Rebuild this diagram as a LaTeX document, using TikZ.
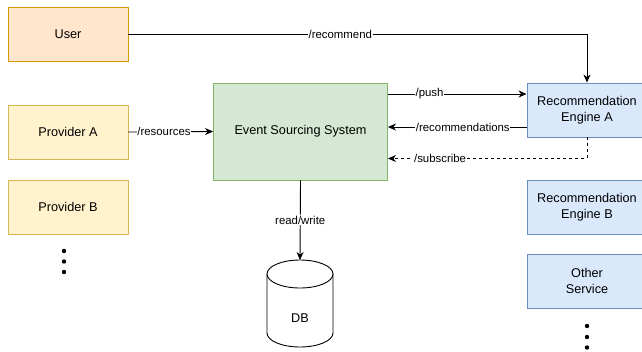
\documentclass[tikz,border=0pt]{standalone}
\usepackage{fontspec}
\setmainfont{Liberation Sans}
\usetikzlibrary{arrows.meta}

\definecolor{userfill}{HTML}{FFE6CC}
\definecolor{userline}{HTML}{D79B00}
\definecolor{provfill}{HTML}{FFF2CC}
\definecolor{provline}{HTML}{D6B656}
\definecolor{essfill}{HTML}{D5E8D4}
\definecolor{essline}{HTML}{82B366}
\definecolor{engfill}{HTML}{DAE8FC}
\definecolor{engline}{HTML}{6C8EBF}

\tikzset{
    box/.style={draw, line width=0.9pt, minimum width=120pt, minimum height=54pt,
        align=center, inner sep=1pt, font=\fontsize{12.7}{15.5}\selectfont},
    lbl/.style={fill=white, inner sep=0.8pt, font=\fontsize{11.4}{13}\selectfont},
    link/.style={line width=0.9pt, -{Stealth[length=8pt, width=7pt, inset=2.5pt]}},
}

\begin{document}
\begin{tikzpicture}[x=1pt, y=-1pt]
    \clip (0,0) rectangle (642,351);

    % Draw the boxes
    \node[box, fill=userfill, draw=userline] (user) at (68,34.5) {User};
    \node[box, fill=provfill, draw=provline] (provA) at (68,132) {Provider A};
    \node[box, fill=provfill, draw=provline] (provB) at (68,207) {Provider B};
    \node[box, fill=essfill, draw=essline, minimum width=174pt, minimum height=97pt] (ess) at (300.5,131.5) {Event Sourcing System};
    \node[box, fill=engfill, draw=engline] (engA) at (587,110) {Recommendation\\Engine A};
    \node[box, fill=engfill, draw=engline] (engB) at (587,207) {Recommendation\\Engine B};
    \node[box, fill=engfill, draw=engline] (other) at (587,281) {Other\\Service};

    % Draw the database
    \coordinate (dbtop) at (300,260);
    \draw[line width=0.9pt, fill=white] (267,274) -- (267,333)
        arc[start angle=180, end angle=360, x radius=33pt, y radius=14pt] -- (333,274);
    \draw[line width=0.9pt, fill=white] (300,274) ellipse[x radius=33pt, y radius=14pt];
    \node[font=\fontsize{12.7}{15}\selectfont] (db) at (300,318) {DB};

    % Draw the connectors
    \draw[link] (user.east) -| node[lbl, pos=0.231] {/recommend} (engA.north);
    \draw[link] (provA.east) -- node[lbl, pos=0.42] {/resources} (ess.west);
    \draw[link] ([yshift=37.5pt]ess.east) -- node[lbl, pos=0.3] {/push} ([yshift=16pt]engA.west);
    \draw[link] ([yshift=-17pt]engA.west) -- node[lbl, pos=0.46] {/recommendations} ([yshift=4.5pt]ess.east);
    \draw[link, dash pattern=on 3pt off 3pt] (engA.south) |- node[lbl, pos=0.869] {/subscribe} ([yshift=-27pt]ess.east);
    \draw[link] (ess.south) -- node[lbl, pos=0.5] {read/write} (dbtop);

    % Draw the dots
    \foreach \y in {251,261.5,272} \fill (64,\y) circle[radius=2.2pt];
    \foreach \y in {326,337,347.5} \fill (587,\y) circle[radius=2.2pt];
\end{tikzpicture}
\end{document}
